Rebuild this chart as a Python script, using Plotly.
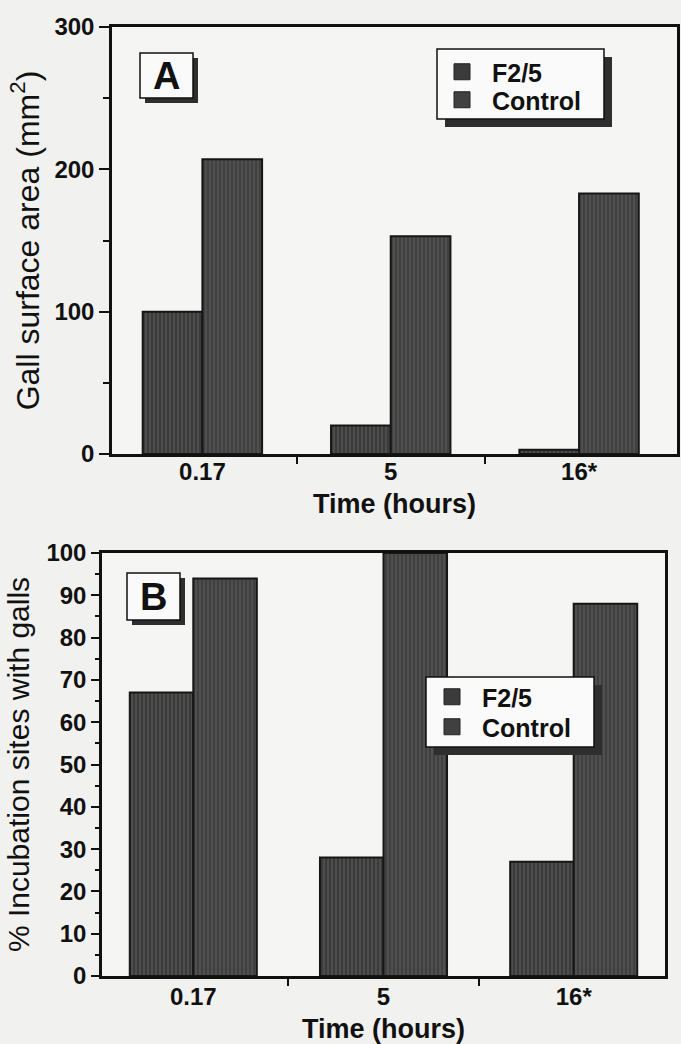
import plotly.graph_objects as go

# ---------------- data ----------------
categories = ["0.17", "5", "16*"]
series_names = ["F2/5", "Control"]

gall_area_f25 = [100, 20, 3]          # panel A, mm^2
gall_area_control = [207, 153, 183]

pct_sites_f25 = [67, 28, 27]          # panel B, %
pct_sites_control = [94, 100, 88]

# ---------------- helpers (pixel -> paper) ----------------
W, H = 681, 1044
def px(x):
    return x / W
def py(y):
    return 1 - y / H

FONT = "Liberation Sans, Arial, Helvetica, sans-serif"
BAR_COLORS = ["#3b3b3b", "#404040"]
xpos = list(range(len(categories)))

fig = go.Figure()

def add_bars(vals_list, xa, ya, bw):
    for i, (name, vals) in enumerate(zip(series_names, vals_list)):
        fig.add_trace(go.Bar(
            x=xpos, y=vals, name=name, xaxis=xa, yaxis=ya,
            width=bw, offset=-bw if i == 0 else 0,
            marker=dict(color=BAR_COLORS[i],
                        line=dict(color="#161616", width=2),
                        pattern=dict(shape="|", fgcolor="#5e5e5e",
                                     bgcolor=BAR_COLORS[i], size=4, solidity=0.25)),
            showlegend=False, hoverinfo="x+y+name"))

add_bars([gall_area_f25, gall_area_control], "x", "y", 0.317)
add_bars([pct_sites_f25, pct_sites_control], "x2", "y2", 0.334)

# legend entries: one legend per row so that rows can be placed exactly
legend_ids = {("A", 0): "legend", ("A", 1): "legend3",
              ("B", 0): "legend2", ("B", 1): "legend4"}
for panel, xa, ya in [("A", "x", "y"), ("B", "x2", "y2")]:
    for i, name in enumerate(series_names):
        fig.add_trace(go.Scatter(
            x=[None], y=[None], mode="markers", name=name,
            legend=legend_ids[(panel, i)],
            marker=dict(symbol="square", size=16, color=BAR_COLORS[i],
                        line=dict(color="#222", width=1)),
            xaxis=xa, yaxis=ya))

tickfont = dict(family=FONT, size=24, color="#111", weight="bold")
titlefont_x = dict(family=FONT, size=27, color="#111", weight="bold")

def xaxis_cfg(standoff_labels):
    return dict(
        tickmode="array", tickvals=xpos, ticktext=categories, ticks="",
        showline=True, linecolor="#111", linewidth=2.5, mirror=True,
        showgrid=False, zeroline=False, tickfont=tickfont,
        ticklabelstandoff=standoff_labels,
        minor=dict(tickmode="array", tickvals=[0.5, 1.5], ticks="outside",
                   ticklen=7, tickwidth=2, tickcolor="#111"),
        automargin=False,
    )

legend_common = dict(xanchor="left", yanchor="middle",
                     bgcolor="rgba(0,0,0,0)", borderwidth=0, itemwidth=50,
                     font=dict(family=FONT, size=25, color="#111", weight="bold"),
                     itemclick=False, itemdoubleclick=False)

fig.update_layout(
    width=W, height=H,
    margin=dict(l=0, r=0, t=0, b=0),
    template="none",
    paper_bgcolor="#f1f1ef",
    plot_bgcolor="#f5f5f3",
    font=dict(family=FONT, color="#111"),
    xaxis=dict(xaxis_cfg(-6), domain=[px(112), px(677)], range=[-0.48, 2.52],
               anchor="y",
               title=dict(text="Time (hours)", font=titlefont_x, standoff=11)),
    yaxis=dict(domain=[py(454), py(27)], range=[0, 300], anchor="x",
               tickmode="linear", tick0=0, dtick=100, ticks="outside",
               ticklen=10, tickwidth=2, tickcolor="#111",
               minor=dict(tickmode="linear", dtick=50, ticks="outside",
                          ticklen=6, tickwidth=2, tickcolor="#111"),
               showline=True, linecolor="#111", linewidth=2.5, mirror=True,
               showgrid=False, zeroline=False, tickfont=tickfont,
               automargin=False,
               title=dict(text="Gall surface area (mm<sup>2</sup>)",
                          font=dict(family=FONT, size=32, color="#111"),
                          standoff=6)),
    xaxis2=dict(xaxis_cfg(-3), domain=[px(102), px(665)], range=[-0.48, 2.48],
                anchor="y2",
                title=dict(text="Time (hours)", font=titlefont_x, standoff=14)),
    yaxis2=dict(domain=[py(976), py(553)], range=[0, 100], anchor="x2",
                tickmode="linear", tick0=0, dtick=10, ticks="outside",
                ticklen=8, tickwidth=2, tickcolor="#111",
                minor=dict(tickmode="linear", dtick=5, ticks="outside",
                           ticklen=4, tickwidth=1.5, tickcolor="#111"),
                showline=True, linecolor="#111", linewidth=2.5, mirror=True,
                showgrid=False, zeroline=False, tickfont=tickfont,
                automargin=False,
                title=dict(text="% Incubation sites with galls",
                           font=dict(family=FONT, size=30, color="#111"),
                           standoff=8)),
    legend=dict(legend_common, x=px(432), y=py(72)),
    legend3=dict(legend_common, x=px(432), y=py(100)),
    legend2=dict(legend_common, x=px(422), y=py(697)),
    legend4=dict(legend_common, x=px(422), y=py(727)),
)

# boxes with drop shadows for legends and panel labels
def boxed(x0, y0, x1, y1, off):
    fig.add_shape(type="rect", xref="paper", yref="paper",
                  x0=px(x0 + off), x1=px(x1 + off), y0=py(y1 + off), y1=py(y0 + off),
                  fillcolor="#2e2e2e", line=dict(width=0), layer="above")
    fig.add_shape(type="rect", xref="paper", yref="paper",
                  x0=px(x0), x1=px(x1), y0=py(y1), y1=py(y0),
                  fillcolor="#fafafa", line=dict(color="#111", width=1.5),
                  layer="above")

boxed(437, 49, 604, 119, 8)     # legend A
boxed(426, 677, 594, 747, 8)    # legend B
boxed(140, 53, 193, 98, 5)      # "A" box
boxed(127, 573, 180, 620, 5)    # "B" box

for label, cx, cy in [("A", 166.5, 76), ("B", 153.5, 597)]:
    fig.add_annotation(xref="paper", yref="paper", x=px(cx), y=py(cy),
                       text=label, showarrow=False,
                       font=dict(family=FONT, size=38, color="#111", weight="bold"),
                       xanchor="center", yanchor="middle")

fig.write_html("out.html")
